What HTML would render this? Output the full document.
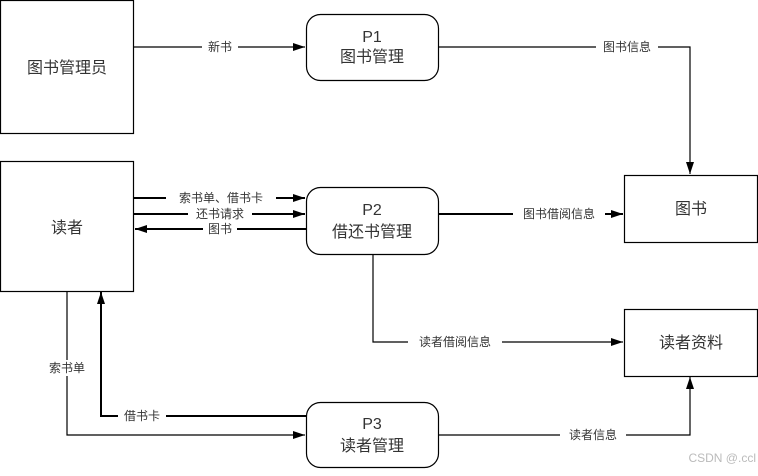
<!DOCTYPE html>
<html><head><meta charset="utf-8"><style>
body{margin:0;background:#fff;}
svg text{font-family:"Liberation Sans","Noto Sans CJK SC",sans-serif;fill:#333;}
</style></head><body>
<svg width="758" height="471" viewBox="0 0 758 471" xmlns="http://www.w3.org/2000/svg">
<defs><marker id="a" markerWidth="12" markerHeight="8" refX="12" refY="4" orient="auto" markerUnits="userSpaceOnUse"><path d="M0,0L12,4L0,8z" fill="#000"/></marker></defs>
<g fill="none" stroke="#000" stroke-width="1.2">
<rect x="0.5" y="0.5" width="133" height="133"/>
<rect x="0.5" y="161.5" width="133" height="130"/>
<rect x="624.5" y="175.5" width="133" height="67"/>
<rect x="624.5" y="309.5" width="133" height="67"/>
<rect x="306.5" y="14.5" width="132" height="66" rx="14"/>
<rect x="306.5" y="187.5" width="132" height="67" rx="14"/>
<rect x="306.5" y="402.5" width="132" height="65" rx="14"/>
<line x1="134" y1="47" x2="305" y2="47" marker-end="url(#a)"/>
<polyline points="438,47 690,47 690,174" marker-end="url(#a)"/>
<line x1="134" y1="198" x2="305" y2="198" stroke-width="2" marker-end="url(#a)"/>
<line x1="134" y1="214" x2="305" y2="214" stroke-width="2" marker-end="url(#a)"/>
<line x1="306" y1="229" x2="135" y2="229" stroke-width="2" marker-end="url(#a)"/>
<line x1="438" y1="214" x2="623" y2="214" stroke-width="2" marker-end="url(#a)"/>
<polyline points="373,254 373,342 623,342" marker-end="url(#a)"/>
<polyline points="67,291 67,435 305,435" marker-end="url(#a)"/>
<polyline points="306,416 101,416 101,292" stroke-width="2" marker-end="url(#a)"/>
<polyline points="438,435 690,435 690,377" marker-end="url(#a)"/>
</g>
<g font-size="12" text-anchor="middle">
<rect x="202" y="39" width="36" height="16" fill="#fff"/><text x="220" y="51">新书</text>
<rect x="596" y="39" width="62" height="16" fill="#fff"/><text x="627" y="51">图书信息</text>
<rect x="166" y="190" width="110" height="16" fill="#fff"/><text x="221" y="202">索书单、借书卡</text>
<rect x="188" y="206" width="64" height="16" fill="#fff"/><text x="220" y="218">还书请求</text>
<rect x="203" y="221" width="34" height="16" fill="#fff"/><text x="220" y="233">图书</text>
<rect x="513" y="206" width="92" height="16" fill="#fff"/><text x="559" y="218">图书借阅信息</text>
<rect x="408" y="334" width="94" height="16" fill="#fff"/><text x="455" y="346">读者借阅信息</text>
<rect x="44" y="360" width="46" height="16" fill="#fff"/><text x="67" y="372">索书单</text>
<rect x="118" y="408" width="48" height="16" fill="#fff"/><text x="142" y="420">借书卡</text>
<rect x="560" y="427" width="66" height="16" fill="#fff"/><text x="593" y="439">读者信息</text>
</g>
<g font-size="16" text-anchor="middle">
<text x="67" y="73">图书管理员</text>
<text x="67" y="233">读者</text>
<text x="691" y="214">图书</text>
<text x="691" y="348">读者资料</text>
<text x="372" y="42">P1</text><text x="372" y="62">图书管理</text>
<text x="372" y="215">P2</text><text x="372" y="237">借还书管理</text>
<text x="372" y="429">P3</text><text x="372" y="451">读者管理</text>
</g>
<text x="756" y="462" font-size="12" text-anchor="end" style="fill:#bbb">CSDN @.ccl</text>
</svg>
</body></html>
